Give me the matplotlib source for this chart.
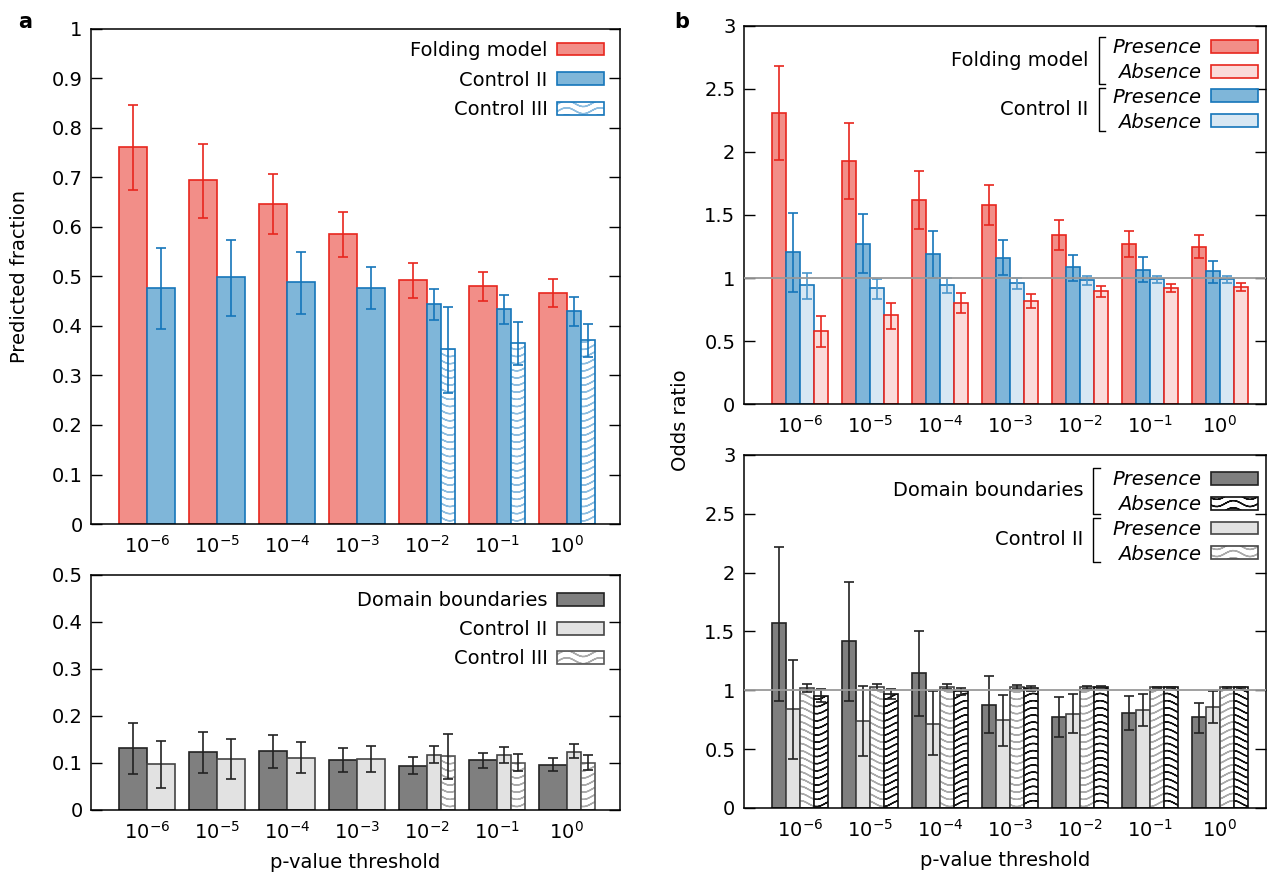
import numpy as np
import matplotlib
matplotlib.use('Agg')
import matplotlib.pyplot as plt
import matplotlib.hatch as mhatch
from matplotlib.path import Path
from matplotlib.legend_handler import HandlerTuple
from matplotlib.ticker import FormatStrFormatter, MultipleLocator

plt.rcParams['font.family'] = 'DejaVu Sans'
plt.rcParams['font.size'] = 14
plt.rcParams['mathtext.default'] = 'regular'
plt.rcParams['hatch.linewidth'] = 1.0


# wavy hatch: replaces the plain horizontal '-' hatch
# (each wave goes out and back so agg's hatch fill has no area)
class WaveHatch(mhatch.HatchPatternBase):
    npts = 41

    def __init__(self, hatch, density):
        self.num_lines = hatch.count('-') * 7
        self.num_vertices = self.num_lines * self.npts * 2

    def set_vertices_and_codes(self, vertices, codes):
        steps, step = np.linspace(0.0, 1.0, self.num_lines, False, retstep=True)
        steps += step / 2
        xx = np.linspace(0.0, 1.0, self.npts)
        xx = np.concatenate([xx, xx[::-1]])
        n = len(xx)
        for i, y in enumerate(steps):
            vertices[i*n:(i+1)*n, 0] = xx
            vertices[i*n:(i+1)*n, 1] = y + 0.03 * np.cos(2 * np.pi * 3 * xx)
            codes[i*n] = Path.MOVETO
            codes[i*n+1:(i+1)*n] = Path.LINETO


mhatch._hatch_types = [WaveHatch if h is mhatch.HorizontalHatch else h
                       for h in mhatch._hatch_types]

thresholds = ['$10^{-6}$', '$10^{-5}$', '$10^{-4}$', '$10^{-3}$',
              '$10^{-2}$', '$10^{-1}$', '$10^{0}$']

# ---- panel a, top: predicted fraction
fold = [0.761, 0.694, 0.646, 0.586, 0.493, 0.480, 0.466]
fold_lo = [0.675, 0.619, 0.585, 0.539, 0.457, 0.450, 0.438]
fold_hi = [0.846, 0.767, 0.706, 0.631, 0.528, 0.510, 0.495]
ctrl2 = [0.477, 0.498, 0.488, 0.477, 0.444, 0.434, 0.430]
ctrl2_lo = [0.393, 0.420, 0.424, 0.434, 0.412, 0.403, 0.399]
ctrl2_hi = [0.558, 0.574, 0.550, 0.519, 0.475, 0.462, 0.458]
ctrl3 = [0.353, 0.366, 0.371]          # only for 1e-2 .. 1e0
ctrl3_lo = [0.265, 0.321, 0.337]
ctrl3_hi = [0.438, 0.409, 0.405]

# ---- panel a, bottom: domain boundaries
dom = [0.131, 0.123, 0.125, 0.107, 0.094, 0.106, 0.096]
dom_lo = [0.076, 0.079, 0.089, 0.081, 0.076, 0.089, 0.082]
dom_hi = [0.186, 0.166, 0.160, 0.131, 0.112, 0.121, 0.110]
dctrl2 = [0.097, 0.109, 0.111, 0.109, 0.118, 0.118, 0.124]
dctrl2_lo = [0.046, 0.067, 0.078, 0.081, 0.099, 0.101, 0.110]
dctrl2_hi = [0.146, 0.150, 0.144, 0.137, 0.137, 0.135, 0.140]
dctrl3 = [0.114, 0.101, 0.101]
dctrl3_lo = [0.067, 0.082, 0.085]
dctrl3_hi = [0.161, 0.120, 0.117]

# ---- panel b, top: odds ratios folding model / control II
fold_pres = [2.307, 1.93, 1.62, 1.58, 1.34, 1.27, 1.25]
fold_pres_lo = [1.937, 1.63, 1.39, 1.42, 1.22, 1.17, 1.16]
fold_pres_hi = [2.685, 2.23, 1.85, 1.74, 1.46, 1.37, 1.34]
c2_pres = [1.204, 1.27, 1.193, 1.159, 1.085, 1.066, 1.053]
c2_pres_lo = [0.891, 1.042, 1.00, 1.021, 0.976, 0.966, 0.960]
c2_pres_hi = [1.513, 1.51, 1.37, 1.30, 1.185, 1.164, 1.135]
c2_abs = [0.942, 0.918, 0.947, 0.958, 0.981, 0.989, 0.989]
c2_abs_lo = [0.833, 0.833, 0.881, 0.910, 0.947, 0.958, 0.963]
c2_abs_hi = [1.037, 0.992, 1.002, 0.997, 1.013, 1.016, 1.018]
fold_abs = [0.577, 0.704, 0.799, 0.817, 0.894, 0.918, 0.926]
fold_abs_lo = [0.452, 0.593, 0.725, 0.759, 0.849, 0.886, 0.894]
fold_abs_hi = [0.696, 0.799, 0.878, 0.870, 0.934, 0.952, 0.958]

# ---- panel b, bottom: odds ratios domain boundaries / control II
db_pres = [1.569, 1.416, 1.144, 0.875, 0.776, 0.807, 0.771]
db_pres_lo = [0.912, 0.912, 0.779, 0.635, 0.603, 0.663, 0.640]
db_pres_hi = [2.22, 1.918, 1.501, 1.124, 0.946, 0.949, 0.890]
dc2_pres = [0.839, 0.737, 0.716, 0.745, 0.801, 0.830, 0.858]
dc2_pres_lo = [0.414, 0.444, 0.448, 0.527, 0.635, 0.697, 0.725]
dc2_pres_hi = [1.26, 1.039, 0.991, 0.963, 0.966, 0.966, 0.991]
dc2_abs = [1.022, 1.028, 1.031, 1.031, 1.028, 1.028, 1.025]
dc2_abs_lo = [0.983, 1.003, 1.011, 1.014, 1.011, 1.017, 1.014]
dc2_abs_hi = [1.056, 1.051, 1.051, 1.045, 1.037, 1.031, 1.031]
db_abs = [0.952, 0.966, 0.991, 1.020, 1.028, 1.028, 1.028]
db_abs_lo = [0.903, 0.929, 0.957, 0.997, 1.017, 1.017, 1.017]
db_abs_hi = [1.014, 1.014, 1.022, 1.034, 1.039, 1.031, 1.031]

red_fill, red_edge = '#f28e88', '#e8261e'
blue_fill, blue_edge = '#7fb6d9', '#1576ba'
lblue_fill, lred_fill = '#d7e7f3', '#fadbda'
dgray_fill, lgray_fill = '#7f7f7f', '#e2e2e2'

xs = np.arange(len(thresholds))
LW = 1.2


def bars(ax, x, h, w, fill, edge, ecol, lo, hi, hatch=None, hcol=None):
    x = np.asarray(x, float)
    h = np.asarray(h)
    if hatch:
        hb = ax.bar(x, h, w, align='edge', color=fill, edgecolor=hcol, hatch=hatch, linewidth=0)
        b = ax.bar(x, h, w, align='edge', color='none', edgecolor=edge, linewidth=LW)
        handle = (hb.patches[0], b.patches[0])
    else:
        b = ax.bar(x, h, w, align='edge', color=fill, edgecolor=edge, linewidth=LW)
        handle = b.patches[0]
    yerr = [h - np.asarray(lo), np.asarray(hi) - h]
    ax.errorbar(x + np.asarray(w) / 2, h, yerr=yerr, fmt='none', ecolor=ecol,
                elinewidth=LW, capsize=3.5, capthick=LW, zorder=3)
    return handle


def style(ax, ymax, step, xmax):
    ax.set_xlim(-0.8, xmax)
    ax.set_ylim(0, ymax)
    ax.yaxis.set_major_locator(MultipleLocator(step))
    ax.yaxis.set_major_formatter(FormatStrFormatter('%g'))
    ax.set_xticks(xs)
    ax.set_xticklabels(thresholds)
    ax.tick_params(axis='x', length=0, pad=8)
    ax.tick_params(axis='y', direction='in', length=8, width=1, right=True, pad=6)
    for s in ax.spines.values():
        s.set_linewidth(1.1)


def legend(ax, handles, labels, x, y, italic=False, spacing=0.42):
    prop = {'size': 14}
    if italic:
        prop['style'] = 'italic'
    ax.legend(handles, labels, loc='upper right', bbox_to_anchor=(x, y),
              frameon=False, markerfirst=False, borderpad=0, borderaxespad=0,
              handlelength=2.4, handleheight=0.65, handletextpad=0.5,
              labelspacing=spacing, prop=prop,
              handler_map={tuple: HandlerTuple(ndivide=1, pad=0)})


def bracket(ax, x, y0, y1, label, dx=0.013):
    ax.plot([x + dx, x, x, x + dx], [y1, y1, y0, y0], color='k', lw=1,
            transform=ax.transAxes, clip_on=False)
    ax.text(x - 0.02, (y0 + y1) / 2, label, transform=ax.transAxes,
            ha='right', va='center', fontsize=14)


fig = plt.figure(figsize=(12.67, 8.77), dpi=100)
ax1 = fig.add_axes([0.0718, 0.4025, 0.4175, 0.5645])
ax2 = fig.add_axes([0.0718, 0.0764, 0.4175, 0.268])
ax3 = fig.add_axes([0.587, 0.5393, 0.412, 0.4311])
ax4 = fig.add_axes([0.587, 0.0787, 0.412, 0.4025])

# panel a top
w2 = np.array([0.4] * 4 + [0.2] * 3)
h1 = bars(ax1, xs - 0.4, fold, 0.4, red_fill, red_edge, red_edge, fold_lo, fold_hi)
h2 = bars(ax1, xs, ctrl2, w2, blue_fill, blue_edge, blue_edge, ctrl2_lo, ctrl2_hi)
h3 = bars(ax1, xs[4:] + 0.2, ctrl3, 0.2, 'white', blue_edge, blue_edge,
          ctrl3_lo, ctrl3_hi, hatch='--', hcol='#8dbde0')
style(ax1, 1, 0.1, 6.76)
ax1.set_ylabel('Predicted fraction', labelpad=16)
legend(ax1, [h1, h2, h3], ['Folding model', 'Control II', 'Control III'], 0.97, 0.976, spacing=0.55)

# panel a bottom
g1 = bars(ax2, xs - 0.4, dom, 0.4, dgray_fill, '#222222', '#222222', dom_lo, dom_hi)
g2 = bars(ax2, xs, dctrl2, w2, lgray_fill, '#444444', '#222222', dctrl2_lo, dctrl2_hi)
g3 = bars(ax2, xs[4:] + 0.2, dctrl3, 0.2, 'white', '#555555', '#222222',
          dctrl3_lo, dctrl3_hi, hatch='--', hcol='#aaaaaa')
style(ax2, 0.5, 0.1, 6.76)
ax2.set_xlabel('p-value threshold', labelpad=7)
legend(ax2, [g1, g2, g3], ['Domain boundaries', 'Control II', 'Control III'], 0.97, 0.93, spacing=0.5)

# panel b top
k1 = bars(ax3, xs - 0.4, fold_pres, 0.2, red_fill, red_edge, red_edge, fold_pres_lo, fold_pres_hi)
k2 = bars(ax3, xs - 0.2, c2_pres, 0.2, blue_fill, blue_edge, blue_edge, c2_pres_lo, c2_pres_hi)
k3 = bars(ax3, xs, c2_abs, 0.2, lblue_fill, blue_edge, '#4d97cc', c2_abs_lo, c2_abs_hi)
k4 = bars(ax3, xs + 0.2, fold_abs, 0.2, lred_fill, red_edge, red_edge, fold_abs_lo, fold_abs_hi)
ax3.axhline(1, color='#999999', lw=1.3, zorder=4)
style(ax3, 3, 0.5, 6.66)
legend(ax3, [k1, k4, k2, k3], ['Presence', 'Absence', 'Presence', 'Absence'],
       0.985, 0.968, italic=True, spacing=0.3)
bracket(ax3, 0.680, 0.847, 0.971, 'Folding model')
bracket(ax3, 0.680, 0.722, 0.836, 'Control II')

# panel b bottom
m1 = bars(ax4, xs - 0.4, db_pres, 0.2, dgray_fill, '#222222', '#222222', db_pres_lo, db_pres_hi)
m2 = bars(ax4, xs - 0.2, dc2_pres, 0.2, lgray_fill, '#444444', '#222222', dc2_pres_lo, dc2_pres_hi)
m3 = bars(ax4, xs, dc2_abs, 0.2, 'white', '#444444', '#222222', dc2_abs_lo, dc2_abs_hi,
          hatch='--', hcol='#aaaaaa')
m4 = bars(ax4, xs + 0.2, db_abs, 0.2, 'white', '#111111', '#222222', db_abs_lo, db_abs_hi,
          hatch='--', hcol='#111111')
ax4.axhline(1, color='#999999', lw=1.3, zorder=4)
style(ax4, 3, 0.5, 6.66)
ax4.set_xlabel('p-value threshold', labelpad=7)
legend(ax4, [m1, m4, m2, m3], ['Presence', 'Absence', 'Presence', 'Absence'],
       0.985, 0.957, italic=True, spacing=0.3)
bracket(ax4, 0.670, 0.833, 0.963, 'Domain boundaries')
bracket(ax4, 0.670, 0.697, 0.822, 'Control II')

fig.text(680 / 1267, 1 - 420 / 877, 'Odds ratio', rotation=90, ha='center', va='center', fontsize=14)
fig.text(0.014, 0.975, 'a', weight='bold', fontsize=15, va='center')
fig.text(0.532, 0.975, 'b', weight='bold', fontsize=15, va='center')

fig.savefig('out.png', dpi=100)
